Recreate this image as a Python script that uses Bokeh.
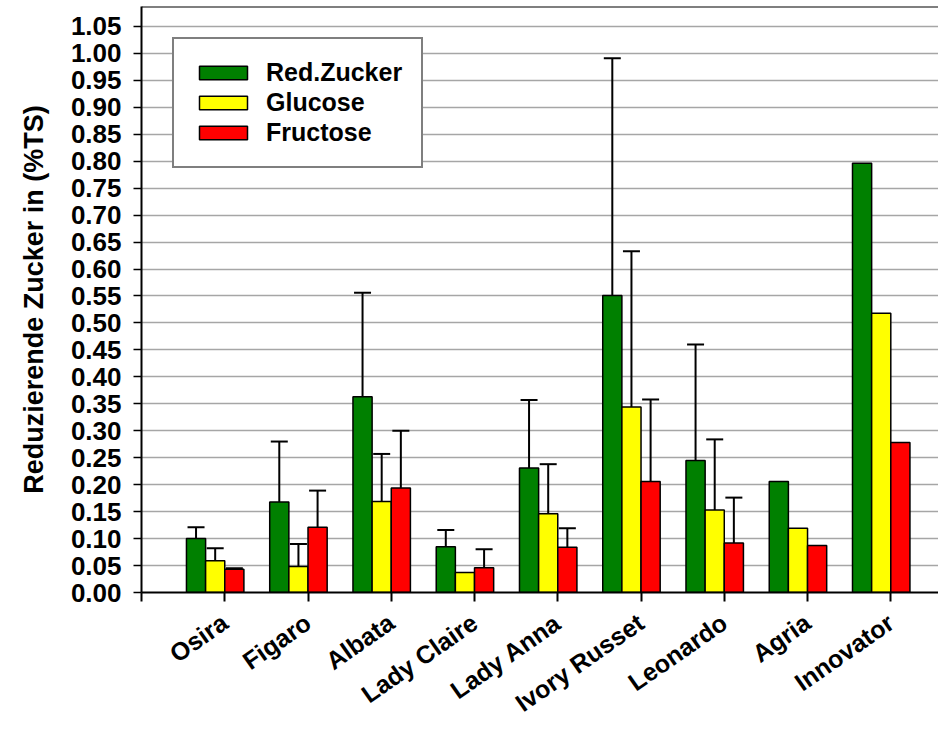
from bokeh.plotting import figure
from bokeh.models import (ColumnDataSource, Range1d, FixedTicker, NumeralTickFormatter,
                          Whisker, TeeHead, Span)
from bokeh.embed import file_html
from bokeh.resources import INLINE

# ---- data ----
categories = ["Osira", "Figaro", "Albata", "Lady Claire", "Lady Anna",
              "Ivory Russet", "Leonardo", "Agria", "Innovator"]
red_zucker = [0.100, 0.168, 0.363, 0.085, 0.231, 0.551, 0.245, 0.206, 0.796]
red_zucker_sd = [0.021, 0.112, 0.193, 0.031, 0.126, 0.440, 0.215, 0.0, 0.0]
glucose = [0.059, 0.048, 0.169, 0.037, 0.146, 0.344, 0.153, 0.119, 0.518]
glucose_sd = [0.023, 0.042, 0.088, 0.0, 0.092, 0.289, 0.131, 0.0, 0.0]
fructose = [0.043, 0.121, 0.194, 0.046, 0.084, 0.206, 0.092, 0.087, 0.278]
fructose_sd = [0.002, 0.068, 0.106, 0.034, 0.035, 0.152, 0.084, 0.0, 0.0]
series_names = ["Red.Zucker", "Glucose", "Fructose"]
series_colors = ["#008000", "#FFFF00", "#FF0000"]
y_ticks = [round(i * 0.05, 2) for i in range(22)]

FONT = "Liberation Sans"
BAR_W = 0.23
offsets = [-1.5 * BAR_W, -0.5 * BAR_W, 0.5 * BAR_W]
Y_END = 1.0869

p = figure(width=938, height=731, output_backend="svg", toolbar_location=None,
           x_range=Range1d(0, 9.573), y_range=Range1d(0, Y_END),
           min_border_left=141, min_border_right=0, min_border_top=6,
           min_border_bottom=136)
p.outline_line_color = None
p.background_fill_color = "white"
p.border_fill_color = "white"

pos = list(range(1, len(categories) + 1))
values = [red_zucker, glucose, fructose]
sds = [red_zucker_sd, glucose_sd, fructose_sd]

for name, color, off, vals, sd in zip(series_names, series_colors, offsets, values, sds):
    xs = [x + off for x in pos]
    src = ColumnDataSource(dict(x=xs, top=vals))
    p.vbar(x="x", top="top", width=BAR_W, source=src, fill_color=color,
           line_color="black", line_width=1.5, legend_label=name)
    ex, lo, up = [], [], []
    for x, v, s in zip(xs, vals, sd):
        if s > 0:
            ex.append(x)
            lo.append(v)
            up.append(v + s)
    esrc = ColumnDataSource(dict(x=ex, lower=lo, upper=up))
    w = Whisker(base="x", lower="lower", upper="upper", source=esrc,
                line_color="black", line_width=2,
                upper_head=TeeHead(size=17, line_color="black", line_width=2),
                lower_head=None)
    p.add_layout(w)

# top border
p.add_layout(Span(location=Y_END, dimension="width", line_color="black", line_width=2))

# x axis
p.xaxis.ticker = FixedTicker(ticks=list(range(0, 10)))
overrides = {0: ""}
for i, c in enumerate(categories):
    overrides[i + 1] = c
p.xaxis.major_label_overrides = overrides
p.xaxis.major_label_orientation = 0.61
p.xaxis.minor_tick_line_color = None
p.xaxis.major_tick_in = 0
p.xaxis.major_tick_out = 9
p.xaxis.major_label_standoff = 18
p.xaxis.axis_line_width = 2
p.xaxis.major_tick_line_width = 2
p.xaxis.major_label_text_font = FONT
p.xaxis.major_label_text_font_style = "bold"
p.xaxis.major_label_text_font_size = "25px"
p.xaxis.major_label_text_color = "black"

p.yaxis.ticker = FixedTicker(ticks=y_ticks)
p.yaxis.formatter = NumeralTickFormatter(format="0.00")
p.yaxis.minor_tick_line_color = None
p.yaxis.major_tick_in = 0
p.yaxis.major_tick_out = 8
p.yaxis.major_label_standoff = 12
p.yaxis.axis_line_width = 2
p.yaxis.major_tick_line_width = 1.5
p.yaxis.major_label_text_font = FONT
p.yaxis.major_label_text_font_style = "bold"
p.yaxis.major_label_text_font_size = "26px"
p.yaxis.major_label_text_color = "black"
p.yaxis.axis_label = "Reduzierende Zucker in (%TS)"
p.yaxis.axis_label_text_font = FONT
p.yaxis.axis_label_text_font_style = "bold"
p.yaxis.axis_label_text_font_size = "27px"
p.yaxis.axis_label_text_color = "black"
p.yaxis.axis_label_standoff = 19

p.xgrid.grid_line_color = None
p.ygrid.ticker = FixedTicker(ticks=y_ticks)
p.ygrid.grid_line_color = "#a6a6a6"
p.ygrid.grid_line_width = 1.5

# legend
p.legend.location = "top_left"
p.legend.margin = 31
p.legend.padding = 19
p.legend.spacing = 1
p.legend.glyph_width = 60
p.legend.glyph_height = 17
p.legend.label_standoff = 13
p.legend.label_text_font = FONT
p.legend.label_text_font_style = "bold"
p.legend.label_text_font_size = "25px"
p.legend.label_text_color = "black"
p.legend.border_line_color = "black"
p.legend.border_line_width = 2
p.legend.background_fill_alpha = 1.0

open("out.html", "w").write(file_html(p, INLINE))
